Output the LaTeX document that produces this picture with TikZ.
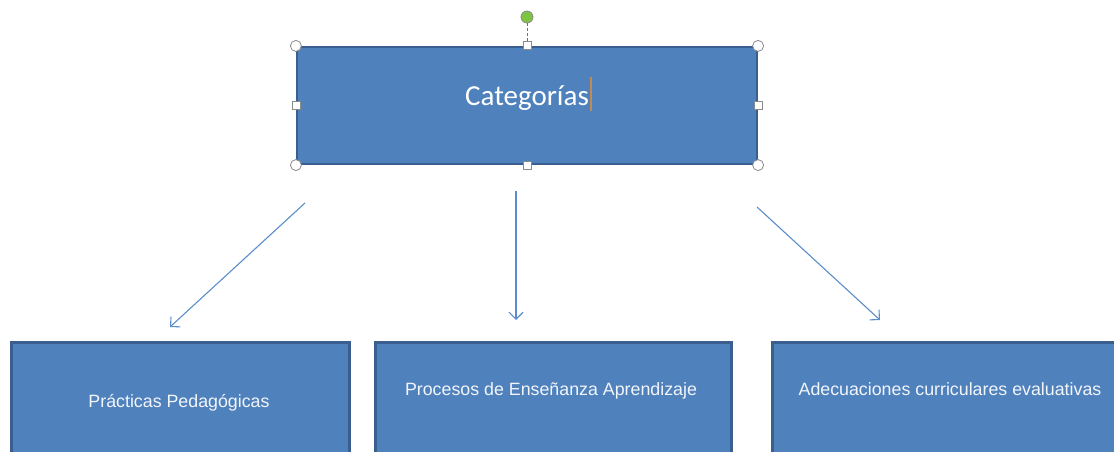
\documentclass[tikz,border=0pt]{standalone}
\usepackage{fontspec}
\setmainfont{Liberation Sans}
\newfontfamily\calib{Carlito}
\usetikzlibrary{arrows.meta}
\definecolor{boxfill}{HTML}{4F81BD}
\definecolor{boxedge}{HTML}{3A5F8E}
\definecolor{arrowc}{HTML}{5B8DCB}
\definecolor{handleedge}{HTML}{8A8A8A}
\definecolor{greenh}{HTML}{7CC441}
\definecolor{cursorc}{HTML}{C08A52}
\definecolor{txtc}{HTML}{F2F5FA}
\definecolor{dashc}{HTML}{4A78B0}
\tikzset{
  box/.style={draw=boxedge, line width=2.6pt, fill=boxfill, rectangle, inner sep=0pt},
  boxtext/.style={text=txtc, font=\fontsize{17.8}{20}\selectfont, inner sep=0pt},
  conn/.style={draw=arrowc, line width=1.1pt, -{Straight Barb[length=7pt,width=14pt,line width=1.1pt]}},
  roundh/.style={circle, draw=handleedge, fill=white, line width=0.8pt, minimum size=11pt, inner sep=0pt},
  squareh/.style={rectangle, draw=handleedge, fill=white, line width=0.8pt, minimum size=8pt, inner sep=0pt}
}
\begin{document}
\begin{tikzpicture}[x=1pt,y=-1pt]
\useasboundingbox (0,0) rectangle (1114,452);
\clip (0,0) rectangle (1114,452);
% top box
\node[box, line width=2.2pt, minimum width=460pt, minimum height=117pt] (top) at (527,105.5) {};
\node[text=white, font=\calib\fontsize{29}{32}\selectfont, inner sep=0pt, anchor=base] (cat) at (527,105) {Categorías};
\draw[cursorc, line width=1.6pt] (591,77) -- (591,111);
% selection handles
\node[roundh, minimum size=12pt, fill=greenh] (rot) at (527,17) {};
\node[squareh] (hn) at (top.north) {};
\draw[dashc, line width=0.9pt, dash pattern=on 3pt off 2pt] (rot.south) -- (hn.north);
\node[squareh] (hs) at (top.south) {};
\node[squareh] (hw) at (top.west) {};
\node[squareh] (he) at (top.east) {};
\node[roundh] (hnw) at (top.north west) {};
\node[roundh] (hne) at (top.north east) {};
\node[roundh] (hsw) at (top.south west) {};
\node[roundh] (hse) at (top.south east) {};
% bottom boxes
\node[box, minimum width=338pt, minimum height=160pt, anchor=north west] (b1) at (10,341) {};
\node[box, minimum width=356pt, minimum height=160pt, anchor=north west] (b2) at (374,341) {};
\node[box, minimum width=360pt, minimum height=160pt, anchor=north west] (b3) at (771,341) {};
\node[boxtext, anchor=base] (t1) at (179,407) {Prácticas Pedagógicas};
\node[boxtext, anchor=base] (t2) at (551,395) {Procesos de Enseñanza Aprendizaje};
\node[boxtext, anchor=base] (t3) at (950,395) {Adecuaciones curriculares evaluativas};
% connectors
\coordinate (a1s) at (305,203);
\coordinate (a1e) at (170,327);
\coordinate (a2s) at (516,191);
\coordinate (a2e) at (516,320);
\coordinate (a3s) at (757,207);
\coordinate (a3e) at (880,320);
\draw[conn] (a1s) -- (a1e);
\draw[conn] (a2s) -- (a2e);
\draw[conn] (a3s) -- (a3e);
\end{tikzpicture}
\end{document}
